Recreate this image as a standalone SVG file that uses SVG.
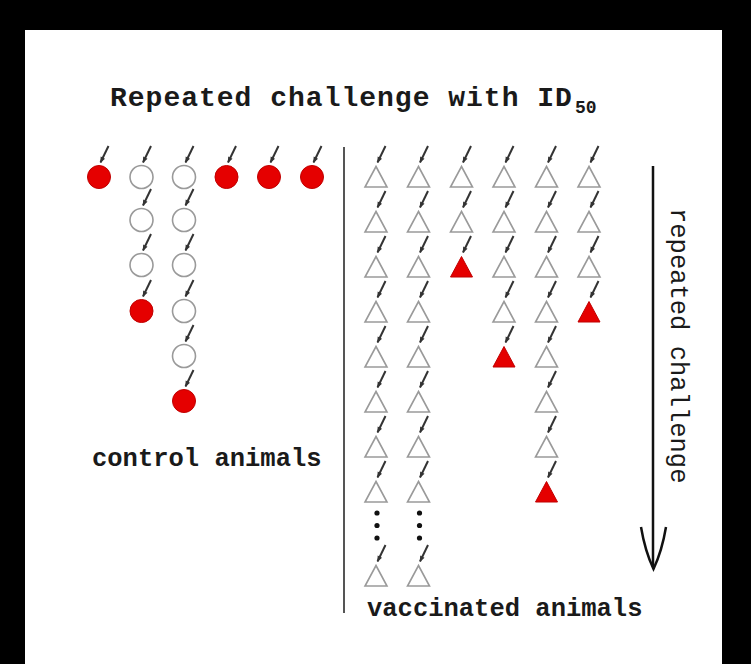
<svg xmlns="http://www.w3.org/2000/svg" xmlns:xlink="http://www.w3.org/1999/xlink" width="751" height="664" viewBox="0 0 751 664">
<style>
.lbl{font-family:"Liberation Mono","Courier New",monospace;font-weight:bold;fill:#1a1a1a;font-size:25.5px}
.lbln{font-family:"Liberation Mono","Courier New",monospace;font-weight:normal;fill:#1a1a1a;font-size:25.5px}
.ttl{font-family:"Liberation Mono","Courier New",monospace;font-weight:bold;fill:#1a1a1a;font-size:28px;letter-spacing:1px}
.sub{font-family:"Liberation Mono","Courier New",monospace;font-weight:bold;fill:#1a1a1a;font-size:18px}
.open{fill:#fff;stroke:#9a9a9a;stroke-width:1.6}
.red{fill:#e50000;stroke:#c00000;stroke-width:1}
.ch{stroke:#333;stroke-width:2;fill:none;marker-end:url(#ah)}
.dot{fill:#111}
</style>
<defs>
<marker id="ah" viewBox="0 0 10 10" refX="9" refY="5" markerWidth="7" markerHeight="6" orient="auto" markerUnits="userSpaceOnUse"><path d="M0,1 L10,5 L0,9 z" fill="#333"/></marker>
<circle id="oc" r="11.5" class="open"/>
<circle id="rc" r="11.5" class="red"/>
<path id="ot" d="M0,-10.5 L11,10 L-11,10 Z" class="open"/>
<path id="rt" d="M0,-10.5 L11,10 L-11,10 Z" class="red"/>
</defs>
<rect x="0" y="0" width="751" height="664" fill="#fff"/>
<rect x="0" y="0" width="751" height="30" fill="#000"/>
<rect x="0" y="0" width="25" height="664" fill="#000"/>
<rect x="722" y="0" width="29" height="664" fill="#000"/>

<g id="title"><text class="ttl" x="110" y="106">Repeated challenge with ID</text><text class="sub" x="575" y="113">50</text></g>

<g id="divider"><line x1="344" y1="147" x2="344" y2="613" stroke="#555" stroke-width="2"/></g>

<g id="challenge-axis">
<line x1="653" y1="166" x2="653" y2="567" stroke="#111" stroke-width="2.5"/>
<path d="M641,527 Q645,551 653.5,569 Q662,551 666,527" fill="none" stroke="#111" stroke-width="2.5"/>
<text class="lbln" transform="translate(671,208) rotate(90)">repeated challenge</text>
</g>

<g id="control-label"><text class="lbl" x="92" y="466">control animals</text></g>
<g id="vaccinated-label"><text class="lbl" x="367" y="616">vaccinated animals</text></g>

<!-- control animals -->
<g id="c0-r0"><use xlink:href="#rc" x="99" y="177"/></g>
<g id="c1-r0"><use xlink:href="#oc" x="141.5" y="177"/></g>
<g id="c1-r1"><use xlink:href="#oc" x="141.5" y="220"/></g>
<g id="c1-r2"><use xlink:href="#oc" x="141.5" y="265"/></g>
<g id="c1-r3"><use xlink:href="#rc" x="141.5" y="311"/></g>
<g id="c2-r0"><use xlink:href="#oc" x="184" y="177"/></g>
<g id="c2-r1"><use xlink:href="#oc" x="184" y="220"/></g>
<g id="c2-r2"><use xlink:href="#oc" x="184" y="265"/></g>
<g id="c2-r3"><use xlink:href="#oc" x="184" y="311"/></g>
<g id="c2-r4"><use xlink:href="#oc" x="184" y="356"/></g>
<g id="c2-r5"><use xlink:href="#rc" x="184" y="401"/></g>
<g id="c3-r0"><use xlink:href="#rc" x="226.5" y="177"/></g>
<g id="c4-r0"><use xlink:href="#rc" x="269" y="177"/></g>
<g id="c5-r0"><use xlink:href="#rc" x="312" y="177"/></g>

<!-- vaccinated animals -->
<g id="v0-r0"><use xlink:href="#ot" x="376" y="177"/></g>
<g id="v0-r1"><use xlink:href="#ot" x="376" y="222"/></g>
<g id="v0-r2"><use xlink:href="#ot" x="376" y="267"/></g>
<g id="v0-r3"><use xlink:href="#ot" x="376" y="312"/></g>
<g id="v0-r4"><use xlink:href="#ot" x="376" y="357"/></g>
<g id="v0-r5"><use xlink:href="#ot" x="376" y="402"/></g>
<g id="v0-r6"><use xlink:href="#ot" x="376" y="447"/></g>
<g id="v0-r7"><use xlink:href="#ot" x="376" y="492"/></g>
<g id="v0-dots"><circle class="dot" cx="377" cy="513" r="2.6"/><circle class="dot" cx="377" cy="525.5" r="2.6"/><circle class="dot" cx="377" cy="538" r="2.6"/></g>
<g id="v0-rn"><use xlink:href="#ot" x="376" y="576"/></g>

<g id="v1-r0"><use xlink:href="#ot" x="418.5" y="177"/></g>
<g id="v1-r1"><use xlink:href="#ot" x="418.5" y="222"/></g>
<g id="v1-r2"><use xlink:href="#ot" x="418.5" y="267"/></g>
<g id="v1-r3"><use xlink:href="#ot" x="418.5" y="312"/></g>
<g id="v1-r4"><use xlink:href="#ot" x="418.5" y="357"/></g>
<g id="v1-r5"><use xlink:href="#ot" x="418.5" y="402"/></g>
<g id="v1-r6"><use xlink:href="#ot" x="418.5" y="447"/></g>
<g id="v1-r7"><use xlink:href="#ot" x="418.5" y="492"/></g>
<g id="v1-dots"><circle class="dot" cx="419.5" cy="513" r="2.6"/><circle class="dot" cx="419.5" cy="525.5" r="2.6"/><circle class="dot" cx="419.5" cy="538" r="2.6"/></g>
<g id="v1-rn"><use xlink:href="#ot" x="418.5" y="576"/></g>

<g id="v2-r0"><use xlink:href="#ot" x="461.5" y="177"/></g>
<g id="v2-r1"><use xlink:href="#ot" x="461.5" y="222"/></g>
<g id="v2-r2"><use xlink:href="#rt" x="461.5" y="267"/></g>

<g id="v3-r0"><use xlink:href="#ot" x="504" y="177"/></g>
<g id="v3-r1"><use xlink:href="#ot" x="504" y="222"/></g>
<g id="v3-r2"><use xlink:href="#ot" x="504" y="267"/></g>
<g id="v3-r3"><use xlink:href="#ot" x="504" y="312"/></g>
<g id="v3-r4"><use xlink:href="#rt" x="504" y="357"/></g>

<g id="v4-r0"><use xlink:href="#ot" x="546.5" y="177"/></g>
<g id="v4-r1"><use xlink:href="#ot" x="546.5" y="222"/></g>
<g id="v4-r2"><use xlink:href="#ot" x="546.5" y="267"/></g>
<g id="v4-r3"><use xlink:href="#ot" x="546.5" y="312"/></g>
<g id="v4-r4"><use xlink:href="#ot" x="546.5" y="357"/></g>
<g id="v4-r5"><use xlink:href="#ot" x="546.5" y="402"/></g>
<g id="v4-r6"><use xlink:href="#ot" x="546.5" y="447"/></g>
<g id="v4-r7"><use xlink:href="#rt" x="546.5" y="492"/></g>

<g id="v5-r0"><use xlink:href="#ot" x="589" y="177"/></g>
<g id="v5-r1"><use xlink:href="#ot" x="589" y="222"/></g>
<g id="v5-r2"><use xlink:href="#ot" x="589" y="267"/></g>
<g id="v5-r3"><use xlink:href="#rt" x="589" y="312"/></g>

<g id="connectors">
<line class="ch" x1="108.5" y1="146" x2="100.5" y2="162.5"/>
<line class="ch" x1="151" y1="146" x2="143" y2="162.5"/>
<line class="ch" x1="151" y1="189" x2="143" y2="205.5"/>
<line class="ch" x1="151" y1="234" x2="143" y2="250.5"/>
<line class="ch" x1="151" y1="280" x2="143" y2="296.5"/>
<line class="ch" x1="193.5" y1="146" x2="185.5" y2="162.5"/>
<line class="ch" x1="193.5" y1="189" x2="185.5" y2="205.5"/>
<line class="ch" x1="193.5" y1="234" x2="185.5" y2="250.5"/>
<line class="ch" x1="193.5" y1="280" x2="185.5" y2="296.5"/>
<line class="ch" x1="193.5" y1="325" x2="185.5" y2="341.5"/>
<line class="ch" x1="193.5" y1="370" x2="185.5" y2="386.5"/>
<line class="ch" x1="236" y1="146" x2="228" y2="162.5"/>
<line class="ch" x1="278.5" y1="146" x2="270.5" y2="162.5"/>
<line class="ch" x1="321.5" y1="146" x2="313.5" y2="162.5"/>

<line class="ch" x1="385.5" y1="146" x2="377.5" y2="162.5"/>
<line class="ch" x1="385.5" y1="191" x2="377.5" y2="207.5"/>
<line class="ch" x1="385.5" y1="236" x2="377.5" y2="252.5"/>
<line class="ch" x1="385.5" y1="281" x2="377.5" y2="297.5"/>
<line class="ch" x1="385.5" y1="326" x2="377.5" y2="342.5"/>
<line class="ch" x1="385.5" y1="371" x2="377.5" y2="387.5"/>
<line class="ch" x1="385.5" y1="416" x2="377.5" y2="432.5"/>
<line class="ch" x1="385.5" y1="461" x2="377.5" y2="477.5"/>
<line class="ch" x1="385.5" y1="545" x2="377.5" y2="561.5"/>

<line class="ch" x1="428" y1="146" x2="420" y2="162.5"/>
<line class="ch" x1="428" y1="191" x2="420" y2="207.5"/>
<line class="ch" x1="428" y1="236" x2="420" y2="252.5"/>
<line class="ch" x1="428" y1="281" x2="420" y2="297.5"/>
<line class="ch" x1="428" y1="326" x2="420" y2="342.5"/>
<line class="ch" x1="428" y1="371" x2="420" y2="387.5"/>
<line class="ch" x1="428" y1="416" x2="420" y2="432.5"/>
<line class="ch" x1="428" y1="461" x2="420" y2="477.5"/>
<line class="ch" x1="428" y1="545" x2="420" y2="561.5"/>

<line class="ch" x1="471" y1="146" x2="463" y2="162.5"/>
<line class="ch" x1="471" y1="191" x2="463" y2="207.5"/>
<line class="ch" x1="471" y1="236" x2="463" y2="252.5"/>

<line class="ch" x1="513.5" y1="146" x2="505.5" y2="162.5"/>
<line class="ch" x1="513.5" y1="191" x2="505.5" y2="207.5"/>
<line class="ch" x1="513.5" y1="236" x2="505.5" y2="252.5"/>
<line class="ch" x1="513.5" y1="281" x2="505.5" y2="297.5"/>
<line class="ch" x1="513.5" y1="326" x2="505.5" y2="342.5"/>

<line class="ch" x1="556" y1="146" x2="548" y2="162.5"/>
<line class="ch" x1="556" y1="191" x2="548" y2="207.5"/>
<line class="ch" x1="556" y1="236" x2="548" y2="252.5"/>
<line class="ch" x1="556" y1="281" x2="548" y2="297.5"/>
<line class="ch" x1="556" y1="326" x2="548" y2="342.5"/>
<line class="ch" x1="556" y1="371" x2="548" y2="387.5"/>
<line class="ch" x1="556" y1="416" x2="548" y2="432.5"/>
<line class="ch" x1="556" y1="461" x2="548" y2="477.5"/>

<line class="ch" x1="598.5" y1="146" x2="590.5" y2="162.5"/>
<line class="ch" x1="598.5" y1="191" x2="590.5" y2="207.5"/>
<line class="ch" x1="598.5" y1="236" x2="590.5" y2="252.5"/>
<line class="ch" x1="598.5" y1="281" x2="590.5" y2="297.5"/>
</g>
</svg>
